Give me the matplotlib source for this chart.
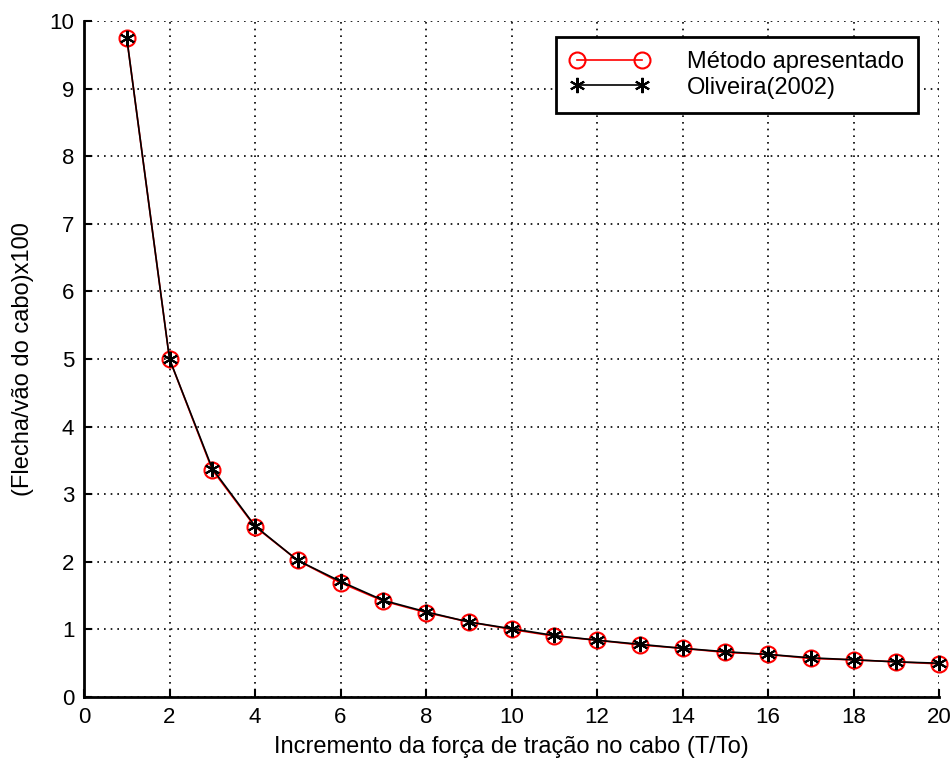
import matplotlib.pyplot as plt

plt.rcParams['font.family'] = ['Liberation Sans', 'DejaVu Sans']

x = [1, 2, 3, 4, 5, 6, 7, 8, 9, 10, 11, 12, 13, 14, 15, 16, 17, 18, 19, 20]
metodo = [9.75, 5.0, 3.36, 2.52, 2.02, 1.69, 1.42, 1.25, 1.11, 1.0,
          0.9, 0.84, 0.77, 0.72, 0.66, 0.63, 0.57, 0.55, 0.52, 0.49]
oliveira = [9.75, 5.0, 3.38, 2.53, 2.02, 1.71, 1.43, 1.26, 1.11, 1.01,
            0.91, 0.84, 0.78, 0.72, 0.67, 0.63, 0.58, 0.55, 0.52, 0.5]

fig = plt.figure(figsize=(9.53, 7.67), dpi=100)
ax = fig.add_axes([84/953, 1 - 697/767, (939 - 84)/953, (697 - 21)/767])

ax.plot(x, metodo, color='red', lw=1.2, marker='o', ms=11.5, mfc='none',
        mec='red', mew=1.5, label='Método apresentado', clip_on=False, zorder=3)
ax.plot(x, oliveira, color='black', lw=1.2, marker=(6, 2, 0), ms=11,
        mec='black', mew=1.5, label='Oliveira(2002)', clip_on=False, zorder=4)

ax.set_xlim(0, 20)
ax.set_ylim(0, 10)
ax.set_xticks(range(0, 21, 2))
ax.set_yticks(range(0, 11))
ax.grid(True, color='black', linestyle=(0, (1, 3)), lw=1.2)
ax.spines['top'].set_visible(False)
ax.spines['right'].set_visible(False)
ax.spines['left'].set_linewidth(2)
ax.spines['bottom'].set_linewidth(2)
ax.tick_params(direction='in', length=6, width=1.5, labelsize=16, pad=7)

ax.set_xlabel('Incremento da força de tração no cabo (T/To)', fontsize=17, labelpad=6)
ax.set_ylabel('(Flecha/vão do cabo)x100', fontsize=17, labelpad=11)

leg = ax.legend(loc='upper right', bbox_to_anchor=((918 - 84)/855, 1 - 16/676),
                borderaxespad=0, fontsize=17, fancybox=False, edgecolor='black',
                framealpha=1, handlelength=3.35, numpoints=2, borderpad=0.6,
                handletextpad=1.6, labelspacing=0.15)
leg.get_frame().set_linewidth(2)

fig.savefig('out.png', dpi=100)
